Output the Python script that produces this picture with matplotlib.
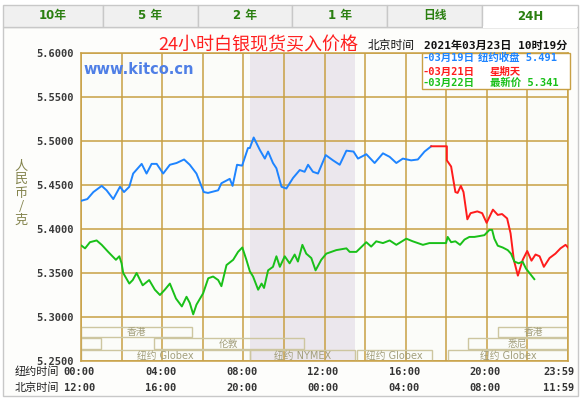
import matplotlib
matplotlib.use("Agg")
import matplotlib.pyplot as plt
from matplotlib.patches import Rectangle
import matplotlib.transforms as mtransforms

plt.rcParams['font.family'] = ['DejaVu Sans', 'Noto Sans CJK SC']

# ---------------- data ----------------
tabs = ["10年", "5 年", "2 年", "1 年", "日线", "24H"]
title = "24小时白银现货买入价格"
subtitle_a = "北京时间"
subtitle_b = "2021年03月23日 10时19分"
y_ticks = [5.25, 5.30, 5.35, 5.40, 5.45, 5.50, 5.55, 5.60]
x_tick_hours = [0, 4, 8, 12, 16, 20, 24]
ny_labels = ["00:00", "04:00", "08:00", "12:00", "16:00", "20:00", "23:59"]
bj_labels = ["12:00", "16:00", "20:00", "00:00", "04:00", "08:00", "11:59"]

blue_hours = [0.00, 0.31, 0.61, 1.02, 1.26, 1.59, 1.92, 2.12, 2.38, 2.57, 2.99, 3.23, 3.48,
              3.73, 4.05, 4.38, 4.71, 5.08, 5.36, 5.69, 6.05, 6.26, 6.76, 6.92, 7.33, 7.47,
              7.69, 7.94, 8.23, 8.32, 8.51, 8.81, 9.06, 9.22, 9.46, 9.63, 9.88, 10.12, 10.45,
              10.78, 11.02, 11.19, 11.43, 11.68, 12.06, 12.42, 12.75, 13.08, 13.43, 13.65,
              14.06, 14.47, 14.88, 15.21, 15.54, 15.86, 16.27, 16.60, 16.93, 17.26]
blue_vals = [5.432, 5.434, 5.442, 5.449, 5.444, 5.434, 5.448, 5.442, 5.448, 5.463, 5.474, 5.463,
             5.474, 5.474, 5.463, 5.473, 5.475, 5.479, 5.473, 5.463, 5.442, 5.441, 5.444, 5.452,
             5.457, 5.449, 5.473, 5.472, 5.492, 5.492, 5.504, 5.490, 5.480, 5.488, 5.475, 5.469,
             5.448, 5.446, 5.458, 5.467, 5.465, 5.473, 5.465, 5.463, 5.484, 5.478, 5.473, 5.489,
             5.488, 5.480, 5.485, 5.475, 5.486, 5.482, 5.475, 5.480, 5.478, 5.479, 5.488, 5.494]

red_hours = [17.26, 18.03, 18.03, 18.24, 18.45, 18.56, 18.72, 18.85, 19.04, 19.20, 19.53, 19.77,
             19.99, 20.30, 20.54, 20.75, 21.00, 21.17, 21.33, 21.53, 21.77, 21.99, 22.20, 22.40,
             22.60, 22.81, 23.09, 23.38, 23.63, 23.88, 24.00]
red_vals = [5.494, 5.494, 5.478, 5.471, 5.442, 5.441, 5.449, 5.442, 5.411, 5.418, 5.420, 5.418,
            5.407, 5.422, 5.416, 5.417, 5.412, 5.395, 5.365, 5.347, 5.365, 5.375, 5.364, 5.371,
            5.369, 5.357, 5.367, 5.372, 5.378, 5.382, 5.379]

green_hours = [0.03, 0.20, 0.44, 0.77, 1.02, 1.34, 1.72, 1.89, 2.00, 2.08, 2.38, 2.55, 2.74, 3.04,
               3.36, 3.64, 3.89, 4.13, 4.38, 4.68, 4.97, 5.20, 5.36, 5.53, 5.69, 6.02, 6.27, 6.51,
               6.76, 6.92, 7.17, 7.50, 7.74, 7.95, 8.15, 8.32, 8.48, 8.73, 8.90, 9.02, 9.22, 9.46,
               9.63, 9.80, 10.04, 10.28, 10.53, 10.69, 10.91, 11.10, 11.35, 11.56, 11.84, 12.09,
               12.58, 13.08, 13.24, 13.57, 14.06, 14.30, 14.55, 14.88, 15.21, 15.54, 16.03, 16.35,
               16.85, 17.17, 17.99, 18.07, 18.24, 18.45, 18.68, 18.90, 19.14, 19.39, 19.64, 19.88,
               20.13, 20.26, 20.37, 20.54, 20.78, 21.03, 21.19, 21.36, 21.57, 21.76, 21.93, 22.10,
               22.34]
green_vals = [5.381, 5.378, 5.385, 5.387, 5.382, 5.374, 5.365, 5.369, 5.361, 5.350, 5.338, 5.342,
              5.350, 5.336, 5.342, 5.331, 5.325, 5.331, 5.338, 5.321, 5.312, 5.323, 5.316, 5.303,
              5.314, 5.327, 5.344, 5.346, 5.342, 5.335, 5.359, 5.365, 5.374, 5.379, 5.365, 5.352,
              5.346, 5.331, 5.338, 5.333, 5.353, 5.357, 5.369, 5.357, 5.369, 5.361, 5.371, 5.363,
              5.382, 5.372, 5.367, 5.353, 5.365, 5.372, 5.376, 5.378, 5.374, 5.374, 5.385, 5.380,
              5.386, 5.384, 5.387, 5.382, 5.389, 5.386, 5.382, 5.384, 5.384, 5.391, 5.385, 5.386,
              5.382, 5.388, 5.391, 5.391, 5.392, 5.393, 5.399, 5.399, 5.389, 5.381, 5.379, 5.376,
              5.372, 5.363, 5.361, 5.363, 5.355, 5.350, 5.343]

legend_dates = ["-03月19日", "-03月21日", "-03月22日"]
legend_notes = ["纽约收盘 5.491", "星期天", "最新价 5.341"]

# market sessions: (name, start hour, end hour, row)
sessions = [("香港", 0.0, 5.46, 0), ("香港", 20.57, 24.0, 0),
            ("", 0.0, 0.98, 1), ("伦敦", 3.6, 10.97, 1), ("悉尼", 19.05, 24.0, 1),
            ("纽约 Globex", 0.0, 8.33, 2), ("纽约 NYMEX", 8.33, 13.48, 2),
            ("纽约 Globex", 13.58, 17.28, 2), ("纽约 Globex", 18.07, 24.0, 2)]
nymex_start, nymex_end = 8.33, 13.48

# ---------------- styling ----------------
W, H = 586, 398
fig = plt.figure(figsize=(W / 100, H / 100), dpi=100)
fig.patch.set_facecolor("white")

def fx(x):
    return x / W

def fy(y):
    return 1 - y / H

GOLD = "#c8a044"
BAND = "#cdc6a0"
BAND_TXT = "#a39f7c"
BLUE = "#1e84ff"
RED = "#ff1c1c"
GREEN = "#19c019"
CJK = ['DejaVu Sans', 'Noto Sans CJK SC']
MONO = ['DejaVu Sans Mono', 'Noto Sans CJK SC']

# panel border
fig.add_artist(Rectangle((fx(3), fy(396)), fx(575), (396 - 27) / H, transform=fig.transFigure,
                         facecolor="#fdfdfb", edgecolor="#c8c8c8", lw=1, zorder=0))
# tabs
tab_edges = [3, 103, 198, 292, 387, 482, 578]
for i, t in enumerate(tabs):
    x0, x1 = tab_edges[i], tab_edges[i + 1]
    sel = (i == len(tabs) - 1)
    fig.add_artist(Rectangle((fx(x0), fy(27)), fx(x1 - x0), 22 / H, transform=fig.transFigure,
                             facecolor="white" if sel else "#f0f0f0", edgecolor="#c8c8c8",
                             lw=1, zorder=1))
    fig.text(fx((x0 + x1) / 2), fy(16), t, ha="center", va="center", fontsize=8.5,
             fontweight="bold", color="#2a7f10", family=CJK, zorder=2)
# cover bottom border of selected tab
fig.add_artist(Rectangle((fx(483), fy(28)), fx(94), 2 / H, transform=fig.transFigure,
                         facecolor="white", edgecolor="none", zorder=3))

# titles
fig.text(fx(258), fy(45), title, ha="center", va="center", fontsize=13, color="#ff2020",
         family=['Noto Sans CJK SC'])
fig.text(fx(391), fy(46), subtitle_a, ha="center", va="center", fontsize=8.5, color="#111111",
         family=['Noto Sans CJK SC'])
fig.text(fx(496), fy(46), subtitle_b, ha="center", va="center", fontsize=8, color="#111111",
         family=MONO, fontweight="bold")

# axes
ax = fig.add_axes([fx(81), fy(361), fx(568 - 81), (361 - 53) / H])
ax.set_facecolor("#fbfcf9")
ax.set_xlim(0, 24)
ax.set_ylim(5.25, 5.60)
ax.axvspan(nymex_start, nymex_end, color="#ebe7ed", lw=0, zorder=0)
ax.set_xticks(range(0, 25, 2))
ax.set_yticks(y_ticks)
ax.grid(True, color=GOLD, lw=1.1, zorder=1)
ax.set_axisbelow(True)
for s in ax.spines.values():
    s.set_color(GOLD)
    s.set_linewidth(1.1)
ax.tick_params(length=0, pad=5)
ax.set_xticklabels([])
ax.set_yticklabels([f"{v:.4f}" for v in y_ticks], family=MONO, fontweight="bold",
                   fontsize=7.5, color="#3a3a3a")

# session bands
row_bounds = [(5.2773, 5.2886), (5.2636, 5.2761), (5.2500, 5.2625)]
for name, h0, h1, row in sessions:
    y0, y1 = row_bounds[row]
    ax.add_patch(Rectangle((h0, y0), h1 - h0, y1 - y0, facecolor="none", edgecolor=BAND,
                           lw=1, zorder=2))
    if name:
        ax.text((h0 + h1) / 2, (y0 + y1) / 2, name, ha="center", va="center", fontsize=7,
                color=BAND_TXT, family=CJK, zorder=3)

# lines
ax.plot(blue_hours, blue_vals, color=BLUE, lw=1.4, zorder=4)
ax.plot(red_hours, red_vals, color=RED, lw=1.4, zorder=4)
ax.plot(green_hours, green_vals, color=GREEN, lw=1.4, zorder=5)

# watermark
ax.text(0.005, 0.948, "www.kitco.cn", transform=ax.transAxes, fontsize=10.5,
        fontweight="bold", color="#4f7fe6", va="center", ha="left", zorder=3)

# legend box
fig.add_artist(Rectangle((fx(422), fy(89)), fx(148), 36 / H, transform=fig.transFigure,
                         facecolor="white", edgecolor=GOLD, lw=1, zorder=6))
leg_colors = [BLUE, RED, GREEN]
leg_y = [58, 71.5, 83]
for d, n, c, yy in zip(legend_dates, legend_notes, leg_colors, leg_y):
    fig.text(fx(423), fy(yy), d, ha="left", va="center", fontsize=7.5, color=c,
             family=MONO, fontweight="bold", zorder=7)
for n, c, yy, xx in zip(legend_notes, leg_colors, leg_y, [478, 490, 490]):
    fig.text(fx(xx), fy(yy), n, ha="left", va="center", fontsize=7.5, color=c,
             family=MONO, fontweight="bold", zorder=7)

# y title
ax_title = "人\n民\n币\n/\n克"
fig.text(fx(21), fy(193), ax_title, ha="center", va="center", fontsize=9.5, color="#85854f",
         family=['Noto Sans CJK SC'], linespacing=1.05)

# x labels
trans = mtransforms.blended_transform_factory(ax.transData, fig.transFigure)
fig.text(fx(37), fy(372), "纽约时间", ha="center", va="center", fontsize=8, color="#222222",
         family=['Noto Sans CJK SC'])
fig.text(fx(37), fy(388), "北京时间", ha="center", va="center", fontsize=8, color="#222222",
         family=['Noto Sans CJK SC'])
for i, (h, a, b) in enumerate(zip(x_tick_hours, ny_labels, bj_labels)):
    off = mtransforms.ScaledTranslation(-9 / 100 if i == len(x_tick_hours) - 1 else -1.5 / 100,
                                        0, fig.dpi_scale_trans)
    fig.text(h, fy(372), a, transform=trans + off, ha="center", va="center", fontsize=7.5,
             fontweight="bold", color="#333333", family=MONO)
    fig.text(h, fy(388), b, transform=trans + off, ha="center", va="center", fontsize=7.5,
             fontweight="bold", color="#333333", family=MONO)

fig.savefig("out.png", dpi=100)
